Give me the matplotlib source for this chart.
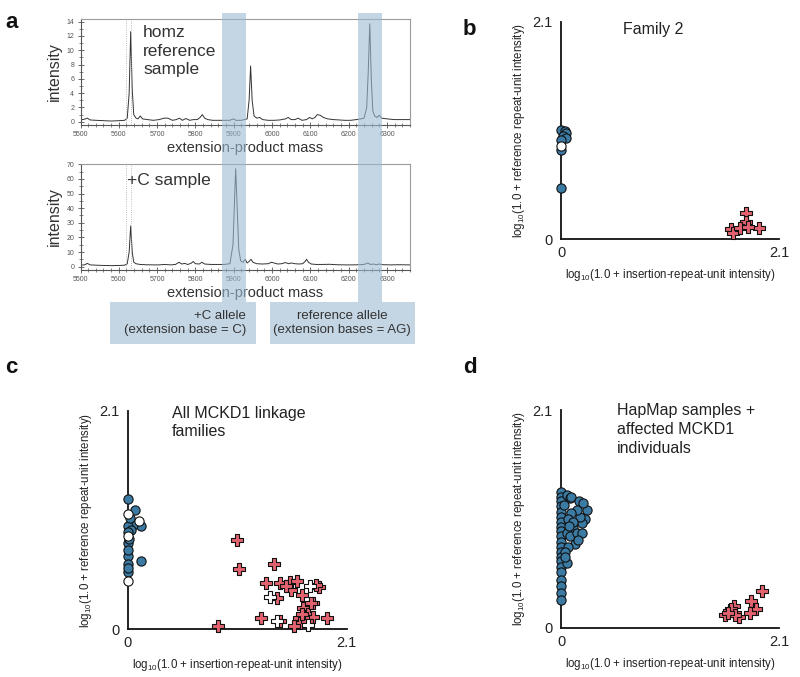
import matplotlib
matplotlib.use('Agg')
import matplotlib.pyplot as plt
from matplotlib.patches import Rectangle
import matplotlib.transforms as mtrans
from matplotlib.ticker import MultipleLocator

plt.rcParams['font.family'] = ['Liberation Sans', 'DejaVu Sans']
plt.rcParams['mathtext.fontset'] = 'custom'
plt.rcParams['mathtext.rm'] = 'Liberation Sans'
plt.rcParams['mathtext.it'] = 'Liberation Sans:italic'

# ---------------- data ----------------
# panel a: mass spectra (mass, intensity)
homz_mass = [5500, 5510, 5518, 5525, 5540, 5560, 5580, 5600, 5615, 5622, 5627, 5631, 5635, 5639,
             5645, 5650, 5656, 5662, 5675, 5690, 5705, 5718, 5728, 5740, 5750, 5758, 5766, 5775,
             5785, 5795, 5805, 5812, 5818, 5824, 5832, 5845, 5860, 5875, 5890, 5898, 5906, 5920,
             5935, 5940, 5944, 5948, 5953, 5960, 5968, 5975, 5990, 6005, 6020, 6035, 6042, 6050,
             6060, 6068, 6078, 6090, 6098, 6105, 6112, 6118, 6126, 6134, 6145, 6160, 6175, 6190,
             6205, 6220, 6232, 6240, 6247, 6251, 6255, 6259, 6263, 6268, 6274, 6280, 6286, 6300,
             6320, 6340, 6360]
homz_int = [0.25, 0.35, 0.5, 0.25, 0.2, 0.15, 0.1, 0.15, 0.2, 0.5, 4.0, 12.6, 4.5, 1.0,
            0.5, 0.4, 0.8, 0.4, 0.3, 0.2, 0.3, 0.5, 0.5, 0.2, 0.3, 0.5, 0.2, 0.45,
            0.2, 0.3, 0.3, 0.6, 1.0, 0.5, 0.3, 0.2, 0.2, 0.2, 0.2, 0.4, 0.2, 0.2,
            0.4, 3.0, 7.8, 3.0, 0.8, 0.5, 0.6, 0.3, 0.2, 0.2, 0.25, 0.4, 0.6, 0.3,
            0.3, 0.5, 0.2, 0.3, 0.6, 0.4, 0.6, 1.0, 0.9, 0.6, 0.4, 0.3, 0.25, 0.2,
            0.2, 0.3, 0.4, 0.5, 2.0, 7.0, 13.7, 6.0, 1.5, 0.8, 0.6, 0.9, 0.5, 0.4,
            0.3, 0.3, 0.3]

plusc_mass = [5500, 5510, 5518, 5525, 5540, 5560, 5580, 5600, 5615, 5622, 5627, 5631, 5635, 5639,
              5645, 5655, 5670, 5690, 5705, 5720, 5735, 5748, 5757, 5764, 5772, 5780, 5788, 5794,
              5800, 5810, 5817, 5824, 5840, 5860, 5875, 5890, 5898, 5902, 5905, 5909, 5913, 5918,
              5924, 5930, 5935, 5940, 5945, 5950, 5960, 5975, 5990, 5998, 6005, 6015, 6025, 6035,
              6043, 6050, 6060, 6070, 6080, 6086, 6090, 6095, 6102, 6115, 6130, 6150, 6170, 6190,
              6210, 6225, 6240, 6250, 6256, 6265, 6272, 6280, 6290, 6310, 6330, 6360]
plusc_int = [1.0, 1.2, 2.2, 1.2, 1.0, 0.8, 0.7, 0.8, 1.0, 2.0, 10, 27.8, 10, 3,
             2.0, 1.5, 1.3, 1.2, 1.2, 1.5, 1.2, 1.5, 3.0, 1.8, 2.2, 1.5, 2.2, 3.5,
             2.0, 1.8, 3.0, 1.8, 1.5, 1.5, 1.5, 2.0, 15, 45, 67, 40, 12, 4,
             3, 5, 2.5, 3.5, 5.0, 3.0, 2.0, 1.8, 2.0, 3.0, 2.5, 1.8, 2.0, 2.8,
             2.0, 2.5, 2.0, 1.8, 2.0, 3.5, 5.0, 3.0, 1.8, 1.5, 1.5, 1.6, 1.3, 1.2,
             1.2, 1.3, 1.5, 2.5, 1.5, 1.8, 1.3, 1.8, 1.3, 1.2, 1.3, 1.2]

# allele mass windows (highlight bands)
plusc_window = (5870, 5933)
ref_window = (6224, 6287)
marker_masses = [5620, 5633]

# panel b: Family 2
b_blue_x = [0.0, 0.04, 0.05, 0.02, 0.05, 0.0, 0.0, 0.0]
b_blue_y = [1.05, 1.04, 1.02, 1.00, 0.98, 0.96, 0.86, 0.49]
b_white_x = [0.0]
b_white_y = [0.90]
b_red_x = [1.78, 1.78, 1.91, 1.64, 1.66, 1.72, 1.80]
b_red_y = [0.25, 0.16, 0.11, 0.10, 0.06, 0.11, 0.12]
b_whitex_x = []
b_whitex_y = []

# panel c: all MCKD1 linkage families
c_blue_x = [0.0, 0.07, 0.13, 0.05, 0.0, 0.03, 0.02, 0.0, 0.0, 0.0, 0.13, 0.0, 0.0, 0.0, 0.01, 0.0]
c_blue_y = [1.25, 1.15, 0.99, 1.00, 0.99, 0.95, 1.07, 0.83, 0.70, 0.63, 0.66, 0.55, 0.76, 0.59, 0.87, 0.93]
c_white_x = [0.0, 0.11, 0.0, 0.0]
c_white_y = [1.11, 1.04, 0.90, 0.46]
c_red_x = [1.05, 1.07, 1.40, 0.87, 1.33, 1.46, 1.56, 1.62, 1.57, 1.67, 1.83, 1.43, 1.78, 1.68,
           1.73, 1.64, 1.78, 1.28, 1.46, 1.91, 1.65, 1.59, 1.72, 1.67, 1.52, 1.81, 1.76]
c_red_y = [0.86, 0.58, 0.63, 0.03, 0.44, 0.44, 0.45, 0.46, 0.38, 0.33, 0.41, 0.30, 0.25, 0.20,
           0.15, 0.11, 0.12, 0.11, 0.08, 0.11, 0.06, 0.03, 0.08, 0.15, 0.42, 0.43, 0.25]
c_whitex_x = [1.75, 1.36, 1.43, 1.73]
c_whitex_y = [0.42, 0.31, 0.08, 0.04]

# panel d: HapMap samples + affected MCKD1 individuals
d_blue_x = [0.0, 0.0, 0.0, 0.0, 0.0, 0.0, 0.0, 0.0, 0.0, 0.0, 0.0, 0.0, 0.0, 0.0, 0.0, 0.0, 0.0,
            0.0, 0.0, 0.0, 0.0,
            0.055, 0.087, 0.10, 0.17, 0.25, 0.23, 0.20, 0.18, 0.15, 0.10, 0.07, 0.12, 0.055,
            0.087, 0.15, 0.20, 0.13, 0.07, 0.04, 0.055, 0.04, 0.03, 0.12, 0.21, 0.08, 0.16]
d_blue_y = [1.31, 1.26, 1.22, 1.17, 1.12, 1.07, 1.02, 0.97, 0.93, 0.88, 0.83, 0.78, 0.73, 0.68,
            0.64, 0.59, 0.54, 0.46, 0.40, 0.33, 0.27,
            1.28, 1.25, 1.26, 1.22, 1.14, 1.05, 1.01, 1.07, 1.14, 1.11, 1.05, 0.96, 0.91,
            0.88, 0.91, 0.91, 0.81, 0.78, 0.73, 0.62, 0.68, 1.18, 1.02, 1.20, 0.98, 0.85]
d_red_x = [1.93, 1.83, 1.88, 1.82, 1.66, 1.64, 1.58, 1.71, 1.67, 1.61]
d_red_y = [0.35, 0.26, 0.18, 0.14, 0.21, 0.18, 0.12, 0.10, 0.12, 0.14]

BLUE = '#3a7aa3'
RED = '#e2636f'
BAND = '#9db9d2'

W, H = 800, 677
fig = plt.figure(figsize=(W / 100, H / 100), dpi=100)


def px_box(l, t, r, b):
    return [l / W, 1 - b / H, (r - l) / W, (b - t) / H]


def fy(y):
    return 1 - y / H


# ---------------- panel a ----------------
def spectrum(rect, mass, inten, ylim, ymaj, ymin):
    ax = fig.add_axes(px_box(*rect))
    ax.patch.set_alpha(0)
    ax.plot(mass, inten, color='#333333', lw=0.7)
    for m in marker_masses:
        ax.axvline(m, color='#aaaaaa', lw=0.6, ls=':')
    ax.set_xlim(5500, 6360)
    ax.set_ylim(*ylim)
    ax.xaxis.set_major_locator(MultipleLocator(100))
    ax.xaxis.set_minor_locator(MultipleLocator(20))
    ax.yaxis.set_major_locator(MultipleLocator(ymaj))
    ax.yaxis.set_minor_locator(MultipleLocator(ymin))
    for s in ['top', 'right']:
        ax.spines[s].set_color('#9a9a9a')
        ax.spines[s].set_linewidth(0.8)
    for s in ['left', 'bottom']:
        ax.spines[s].set_color('#555555')
        ax.spines[s].set_linewidth(0.8)
    ax.tick_params(which='major', direction='inout', length=5, width=0.6, colors='#555555',
                   labelsize=5, pad=2)
    ax.tick_params(which='minor', direction='inout', length=3, width=0.5, colors='#555555')
    ax.set_xlabel('extension-product mass', fontsize=10.5, color='#333333', labelpad=2)
    ax.set_ylabel('intensity', fontsize=11.5, color='#333333', labelpad=3)
    return ax


ax1 = spectrum((80.5, 19.3, 410, 124.6), homz_mass, homz_int, (-0.4, 14.33), 2, 1)
ax2 = spectrum((80.5, 164, 410, 270), plusc_mass, plusc_int, (-2.3, 70.2), 10, 5)

fig.text(143 / W, fy(25), 'homz\nreference\nsample', fontsize=12.5, color='#333333',
         va='top', ha='left', linespacing=1.3)
fig.text(127 / W, fy(173), '+C sample', fontsize=12.5, color='#333333', va='top', ha='left')

# highlight bands (x in mass units, y in figure coords)
btr = mtrans.blended_transform_factory(ax1.transData, fig.transFigure)
for (m0, m1) in [plusc_window, ref_window]:
    fig.add_artist(Rectangle((m0, fy(302)), m1 - m0, (302 - 13) / H, transform=btr,
                             facecolor=BAND, edgecolor='none', alpha=0.6, zorder=5))
for (l, r) in [(110, 256), (270, 415)]:
    fig.add_artist(Rectangle((l / W, fy(344)), (r - l) / W, (344 - 302) / H,
                             transform=fig.transFigure, facecolor=BAND, edgecolor='none',
                             alpha=0.6, zorder=5))
fig.text(246 / W, fy(323), '+C allele\n(extension base = C)', fontsize=9.5, color='#333333',
         ha='right', va='center', ma='right', zorder=6, linespacing=1.25)
fig.text(342 / W, fy(323), 'reference allele\n(extension bases = AG)', fontsize=9.5,
         color='#333333', ha='center', va='center', ma='center', zorder=6, linespacing=1.25)


# ---------------- scatter panels ----------------
def scatter_panel(rect, bx, by, wx, wy, rx, ry, wxx, wxy, title, tx, ty, ls):
    ax = fig.add_axes(px_box(*rect))
    ax.patch.set_alpha(0)
    ax.set_xlim(0, 2.1)
    ax.set_ylim(0, 2.1)
    for s in ['top', 'right']:
        ax.spines[s].set_visible(False)
    for s in ['left', 'bottom']:
        ax.spines[s].set_linewidth(1.3)
        ax.spines[s].set_color('#111111')
    ax.set_xticks([0, 2.1])
    ax.set_xticklabels(['0', '2.1'])
    ax.set_yticks([0, 2.1])
    ax.set_yticklabels(['0', '2.1'])
    ax.tick_params(axis='x', length=0, labelsize=10.5, pad=5, colors='#222222')
    ax.tick_params(axis='y', length=0, labelsize=10.5, pad=6, colors='#222222')
    ax.set_xlabel(r'log$_{10}$(1.0 + insertion-repeat-unit intensity)', fontsize=8.3,
                  color='#222222', labelpad=5)
    ax.set_ylabel(r'log$_{10}$(1.0 + reference repeat-unit intensity)', fontsize=8.3,
                  color='#222222', labelpad=4)
    kw = dict(edgecolors='#111111', linewidths=0.8, clip_on=False)
    ax.scatter(bx, by, s=44, marker='o', facecolors=BLUE, zorder=3, **kw)
    if wx:
        ax.scatter(wx, wy, s=44, marker='o', facecolors='white', zorder=4, **kw)
    ax.scatter(rx, ry, s=80, marker='P', facecolors=RED, zorder=3, **kw)
    if wxx:
        ax.scatter(wxx, wxy, s=80, marker='P', facecolors='white', zorder=4, **kw)
    ax.text(tx, ty, title, transform=ax.transAxes, fontsize=11.5, color='#222222',
            ha='left', va='top', linespacing=ls)
    return ax


scatter_panel((561, 21.7, 779, 239), b_blue_x, b_blue_y, b_white_x, b_white_y,
              b_red_x, b_red_y, b_whitex_x, b_whitex_y, 'Family 2', 0.284, 1.0, 1.2)
scatter_panel((127.7, 410.7, 346.7, 629.3), c_blue_x, c_blue_y, c_white_x, c_white_y,
              c_red_x, c_red_y, c_whitex_x, c_whitex_y, 'All MCKD1 linkage\nfamilies',
              0.20, 1.02, 1.2)
scatter_panel((561, 410, 779.3, 627.7), d_blue_x, d_blue_y, [], [],
              d_red_x, d_red_y, [], [], 'HapMap samples +\naffected MCKD1\nindividuals',
              0.255, 1.03, 1.3)

# panel letters
for lab, x, y in [('a', 5, 28), ('b', 463, 35), ('c', 5, 373), ('d', 463, 373)]:
    fig.text(x / W, fy(y), lab, fontsize=16, fontweight='bold', ha='left', va='baseline',
             color='#111111')

fig.savefig('out.png', dpi=100)
